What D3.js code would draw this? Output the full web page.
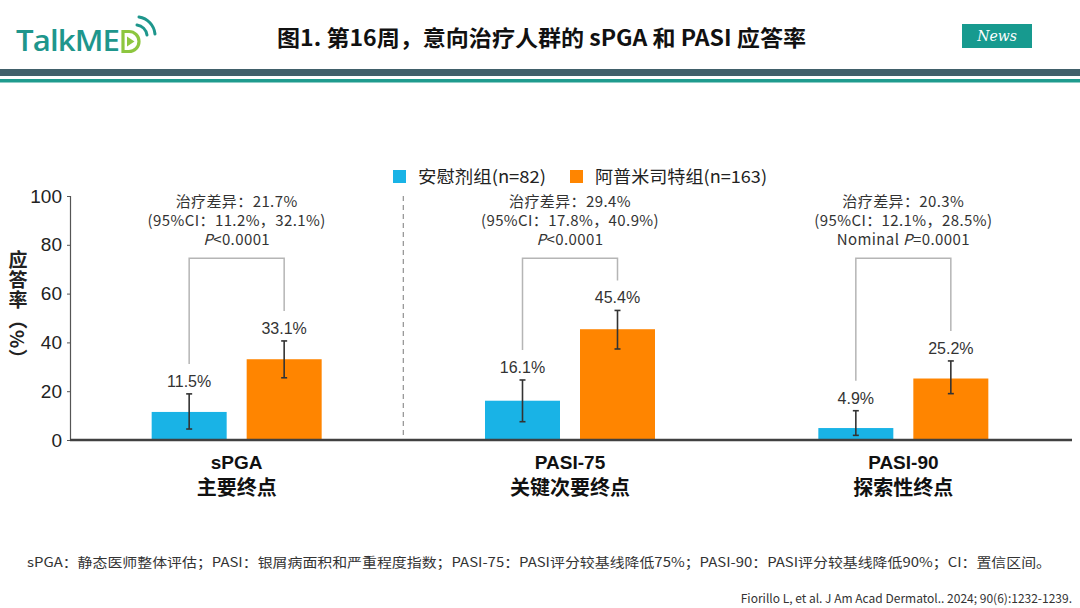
<script src="https://cdnjs.cloudflare.com/ajax/libs/d3/7.8.5/d3.min.js"></script>
<style>
  body { margin: 0; background: #fff; }
  svg { display: block; }
</style>
<svg id="chart"></svg>
<script>
// values
const categories = ["sPGA", "PASI-75", "PASI-90"];
const subLabels = ["主要终点", "关键次要终点", "探索性终点"];
const groups = ["placebo", "apremilast"];
const groupNames = ["安慰剂组(n=82)", "阿普米司特组(n=163)"];
const placebo = [11.5, 16.1, 4.9];
const apremilast = [33.1, 45.4, 25.2];
const placeboLow = [4.5, 7.5, 1.9];
const placeboHigh = [18.9, 24.6, 12.0];
const apremilastLow = [25.5, 37.3, 19.0];
const apremilastHigh = [40.6, 53.1, 32.4];
const diffLines = ["治疗差异：21.7%", "治疗差异：29.4%", "治疗差异：20.3%"];
const ciLines = ["(95%CI：11.2%，32.1%)", "(95%CI：17.8%，40.9%)", "(95%CI：12.1%，28.5%)"];
const pPrefix = ["", "", "Nominal "];
const pRest = ["<0.0001", "<0.0001", "=0.0001"];
const yTicks = [0, 20, 40, 60, 80, 100];
const yTitle = "应答率（%）";

const W = 1080, H = 608;
const colors = { placebo: "#19b3e6", apremilast: "#ff8500" };
const numFont = "'Liberation Sans', Arial, sans-serif";
const cjkFont = "'Noto Sans CJK SC', 'Noto Sans', sans-serif";

const svg = d3.select("#chart").attr("width", W).attr("height", H)
    .attr("viewBox", [0, 0, W, H]);

// ---- header ----
const logo = svg.append("g");
logo.append("text")
    .attr("x", 16).attr("y", 51)
    .attr("font-family", "'Open Sans', sans-serif")
    .attr("font-size", 28).attr("font-weight", 600)
    .attr("fill", "#1e968c")
    .attr("letter-spacing", -0.8)
    .attr("textLength", 103).attr("lengthAdjust", "spacingAndGlyphs")
    .text("TalkME");
// the "D" with a play mark
logo.append("path")
    .attr("d", "M123,31.5 h6 a10,10 0 0 1 0,20 h-6 z")
    .attr("fill", "none").attr("stroke", "#8dc63f").attr("stroke-width", 3.2);
logo.append("path")
    .attr("d", "M127,36.5 l7.5,5 l-7.5,5 z")
    .attr("fill", "#8dc63f");
// signal arcs
logo.append("path")
    .attr("d", "M137,25 a12,12 0 0 1 10,10")
    .attr("fill", "none").attr("stroke", "#1e968c").attr("stroke-width", 3).attr("stroke-linecap", "round");
logo.append("path")
    .attr("d", "M139,17 a19,19 0 0 1 16,17")
    .attr("fill", "none").attr("stroke", "#1e968c").attr("stroke-width", 3).attr("stroke-linecap", "round");

svg.append("text")
    .attr("x", 277).attr("y", 46)
    .attr("font-family", cjkFont).attr("font-weight", 700).attr("font-size", 22)
    .attr("fill", "#111")
    .attr("textLength", 529).attr("lengthAdjust", "spacingAndGlyphs")
    .text("图1. 第16周，意向治疗人群的 sPGA 和 PASI 应答率");

svg.append("rect").attr("x", 962).attr("y", 24).attr("width", 70).attr("height", 24).attr("fill", "#179a8f");
svg.append("text")
    .attr("x", 997).attr("y", 41).attr("text-anchor", "middle")
    .attr("font-family", "'DejaVu Serif', serif").attr("font-style", "italic").attr("font-size", 14)
    .attr("fill", "#fff")
    .text("News");

svg.append("rect").attr("x", 0).attr("y", 69).attr("width", W).attr("height", 7).attr("fill", "#41606a");
svg.append("rect").attr("x", 0).attr("y", 79).attr("width", W).attr("height", 3.5).attr("fill", "#1f9b8e");

// ---- scales ----
const x = d3.scaleBand().domain(categories).range([70, 1070]);
const x1 = d3.scaleBand().domain(groups).paddingInner(20 / 95);
const y = d3.scaleLinear().domain([0, 100]).range([440, 196]);

const rows = categories.map((c, i) => ({
  cat: c, i,
  bars: [
    { g: "placebo", v: placebo[i], lo: placeboLow[i], hi: placeboHigh[i] },
    { g: "apremilast", v: apremilast[i], lo: apremilastLow[i], hi: apremilastHigh[i] }
  ]
}));

function barX(d, b) {
  const c = x(d.cat) + x.bandwidth() / 2;
  x1.range([c - 85, c + 85]);
  return x1(b.g);
}

// ---- y axis ----
const yAxis = svg.append("g")
    .attr("transform", "translate(70,0)")
    .call(d3.axisLeft(y).tickValues(yTicks).tickSize(3).tickPadding(5));
yAxis.select(".domain").attr("stroke", "#555").attr("stroke-width", 1.2);
yAxis.selectAll(".tick line").attr("stroke", "#555");
yAxis.selectAll(".tick text")
    .attr("font-family", numFont).attr("font-size", 19).attr("fill", "#222");

// vertical axis title
svg.append("text")
    .attr("x", 18).attr("y", 250)
    .attr("font-family", cjkFont).attr("font-weight", 700).attr("font-size", 19)
    .attr("fill", "#222")
    .attr("letter-spacing", 1)
    .style("writing-mode", "vertical-rl")
    .text(yTitle);

// separator between primary and other endpoints
svg.append("line")
    .attr("x1", x(categories[1])).attr("x2", x(categories[1]))
    .attr("y1", y(100)).attr("y2", y(0))
    .attr("stroke", "#999").attr("stroke-width", 1.3).attr("stroke-dasharray", "5,4");

// ---- bars ----
const grp = svg.append("g").selectAll("g").data(rows).join("g");

grp.selectAll("rect").data(d => d.bars.map(b => ({ d, b }))).join("rect")
    .attr("x", o => barX(o.d, o.b))
    .attr("width", () => x1.bandwidth())
    .attr("y", o => y(o.b.v))
    .attr("height", o => y(0) - y(o.b.v))
    .attr("fill", o => colors[o.b.g]);

// error bars
const err = grp.selectAll("g.err").data(d => d.bars.map(b => ({ d, b }))).join("g").attr("class", "err")
    .attr("transform", o => `translate(${barX(o.d, o.b) + x1.bandwidth() / 2},0)`)
    .attr("stroke", "#333").attr("stroke-width", 1.6);
err.append("line").attr("y1", o => y(o.b.lo)).attr("y2", o => y(o.b.hi));
err.append("line").attr("x1", -3).attr("x2", 3).attr("y1", o => y(o.b.lo)).attr("y2", o => y(o.b.lo));
err.append("line").attr("x1", -3).attr("x2", 3).attr("y1", o => y(o.b.hi)).attr("y2", o => y(o.b.hi));

// value labels
grp.selectAll("text.val").data(d => d.bars.map(b => ({ d, b }))).join("text").attr("class", "val")
    .attr("x", o => barX(o.d, o.b) + x1.bandwidth() / 2)
    .attr("y", o => y(o.b.hi) - 7)
    .attr("text-anchor", "middle")
    .attr("font-family", numFont).attr("font-size", 16).attr("fill", "#333")
    .text(o => o.b.v.toFixed(1) + "%");

// comparison brackets
grp.append("path")
    .attr("d", d => {
      const xa = barX(d, d.bars[0]) + x1.bandwidth() / 2;
      const xb = barX(d, d.bars[1]) + x1.bandwidth() / 2;
      const top = y(74.5);
      return `M${xa},${y(d.bars[0].hi) - 30}V${top}H${xb}V${y(d.bars[1].hi) - 30}`;
    })
    .attr("fill", "none").attr("stroke", "#b5b5b5").attr("stroke-width", 1.5);

// annotation text
const cx = d => x(d.cat) + x.bandwidth() / 2;
grp.append("text")
    .attr("x", cx).attr("y", 207)
    .attr("text-anchor", "middle")
    .attr("font-family", cjkFont).attr("font-size", 15).attr("fill", "#333")
    .attr("letter-spacing", 0.4)
    .text(d => diffLines[d.i]);
grp.append("text")
    .attr("x", cx).attr("y", 226)
    .attr("text-anchor", "middle")
    .attr("font-family", cjkFont).attr("font-size", 15).attr("fill", "#333")
    .attr("letter-spacing", 0.4)
    .text(d => ciLines[d.i]);
const pLine = grp.append("text")
    .attr("x", cx).attr("y", 245)
    .attr("text-anchor", "middle")
    .attr("font-family", cjkFont).attr("font-size", 15).attr("fill", "#333")
    .attr("letter-spacing", 0.4);
pLine.append("tspan").text(d => pPrefix[d.i]);
pLine.append("tspan").attr("font-style", "italic").text("P");
pLine.append("tspan").text(d => pRest[d.i]);

// ---- x axis ----
svg.append("line")
    .attr("x1", 70).attr("x2", 1072).attr("y1", y(0)).attr("y2", y(0))
    .attr("stroke", "#404040").attr("stroke-width", 2.4);

const xl = svg.append("g").selectAll("text").data(rows).join("text")
    .attr("text-anchor", "middle")
    .attr("font-weight", 700).attr("fill", "#111");
xl.append("tspan").attr("x", cx).attr("y", 469)
    .attr("font-family", numFont).attr("font-size", 19).text(d => d.cat);
xl.append("tspan").attr("x", cx).attr("y", 495)
    .attr("font-family", cjkFont).attr("font-size", 20).text(d => subLabels[d.i]);

// ---- legend ----
const legX = [393, 570];
const legLen = [128, 172];
const leg = svg.append("g").selectAll("g").data(groups).join("g")
    .attr("transform", (g, i) => `translate(${legX[i]},170)`);
leg.append("rect").attr("width", 13).attr("height", 13).attr("fill", g => colors[g]);
leg.append("text").attr("x", 25).attr("y", 13)
    .attr("font-family", cjkFont).attr("font-size", 17).attr("fill", "#222")
    .attr("textLength", (g, i) => legLen[i]).attr("lengthAdjust", "spacingAndGlyphs")
    .text((g, i) => groupNames[i]);

// ---- footnotes ----
svg.append("text")
    .attr("x", 27).attr("y", 567)
    .attr("font-family", cjkFont).attr("font-size", 13).attr("fill", "#333")
    .attr("textLength", 1024).attr("lengthAdjust", "spacingAndGlyphs")
    .text("sPGA：静态医师整体评估；PASI：银屑病面积和严重程度指数；PASI-75：PASI评分较基线降低75%；PASI-90：PASI评分较基线降低90%；CI：置信区间。");
svg.append("text")
    .attr("x", 1072).attr("y", 603)
    .attr("text-anchor", "end")
    .attr("font-family", cjkFont).attr("font-size", 12).attr("fill", "#333")
    .text("Fiorillo L, et al. J Am Acad Dermatol.. 2024; 90(6):1232-1239.");
</script>
